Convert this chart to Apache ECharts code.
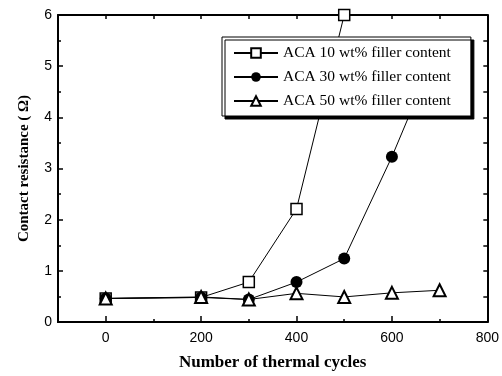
<!DOCTYPE html>
<html>
<head>
<meta charset="utf-8">
<script src="https://cdn.jsdelivr.net/npm/echarts@6/dist/echarts.min.js"></script>
<style>
  html, body { margin: 0; padding: 0; background: #fff; }
  #chart { width: 502px; height: 376px; }
</style>
</head>
<body>
<div id="chart"></div>
<script>
// thermal cycles on x
const cycles10 = [0, 200, 300, 400, 500]
const res10 = [0.46, 0.48, 0.78, 2.21, 6.0]

const cycles30 = [0, 200, 300, 400, 500, 600, 700]
const res30 = [0.46, 0.48, 0.44, 0.78, 1.24, 3.23, 5.45]

const cycles50 = [0, 200, 300, 400, 500, 600, 700]
const res50 = [0.46, 0.49, 0.44, 0.56, 0.49, 0.57, 0.62]

const xMajorTicks = [0, 200, 400, 600, 800]
const names = ['ACA 10 wt% filler content', 'ACA 30 wt% filler content', 'ACA 50 wt% filler content']

const pair = (xs, ys) => xs.map((x, i) => [x, ys[i]])

const chart = echarts.init(document.getElementById('chart'))

const serif = 'Liberation Serif'
const sans = 'Liberation Sans'

const baseX = {
  type: 'value',
  min: -100,
  max: 800,
  interval: 100,
  splitLine: { show: false },
  axisLine: { onZero: false, lineStyle: { color: '#000', width: 2 } }
}

const option = {
  animation: false,
  backgroundColor: '#fff',
  grid: { left: 58, right: 14, top: 15, bottom: 52 },
  legend: {
    orient: 'vertical',
    left: 222,
    top: 37,
    padding: [8, 20, 7, 11],
    itemWidth: 44,
    itemHeight: 12,
    itemGap: 8,
    z: 10,
    backgroundColor: '#fff',
    borderColor: '#000',
    borderWidth: 1,
    shadowColor: '#000',
    shadowBlur: 0,
    shadowOffsetX: 3,
    shadowOffsetY: 3,
    textStyle: { fontFamily: serif, fontSize: 15.5, color: '#000' },
    data: names
  },
  xAxis: [
    Object.assign({}, baseX, {
      position: 'bottom',
      name: 'Number of thermal cycles',
      nameLocation: 'middle',
      nameGap: 32,
      nameTextStyle: { fontFamily: serif, fontSize: 17, fontWeight: 'bold', color: '#000' },
      axisTick: { inside: true, length: 6, customValues: xMajorTicks, lineStyle: { color: '#000', width: 1.5 } },
      axisLabel: { customValues: xMajorTicks, margin: 9, fontFamily: sans, fontSize: 14, color: '#000' }
    }),
    Object.assign({}, baseX, {
      position: 'bottom',
      axisTick: { inside: true, length: 3, lineStyle: { color: '#000', width: 1.5 } },
      axisLabel: { show: false }
    }),
    Object.assign({}, baseX, {
      position: 'top',
      axisTick: { inside: true, length: 4, lineStyle: { color: '#000', width: 1.5 } },
      axisLabel: { show: false }
    })
  ],
  yAxis: [
    {
      type: 'value',
      min: 0,
      max: 6,
      interval: 1,
      position: 'left',
      name: 'Contact resistance ( Ω)',
      nameLocation: 'middle',
      nameGap: 26,
      nameTextStyle: { fontFamily: serif, fontSize: 15, fontWeight: 'bold', color: '#000' },
      splitLine: { show: false },
      axisLine: { onZero: false, lineStyle: { color: '#000', width: 2 } },
      axisTick: { inside: true, length: 5, lineStyle: { color: '#000', width: 1.5 } },
      minorTick: { show: true, splitNumber: 2, length: 3, lineStyle: { color: '#000', width: 1.5 } },
      axisLabel: { margin: 6, fontFamily: sans, fontSize: 14, color: '#000' }
    },
    {
      type: 'value',
      min: 0,
      max: 6,
      interval: 0.5,
      position: 'right',
      splitLine: { show: false },
      axisLine: { onZero: false, lineStyle: { color: '#000', width: 2 } },
      axisTick: { inside: true, length: 4, lineStyle: { color: '#000', width: 1.5 } },
      axisLabel: { show: false }
    }
  ],
  series: [
    {
      name: names[0],
      type: 'line',
      data: pair(cycles10, res10),
      symbol: 'rect',
      symbolSize: 11,
      lineStyle: { color: '#000', width: 1 },
      itemStyle: { color: '#fff', borderColor: '#000', borderWidth: 1.5 }
    },
    {
      name: names[1],
      type: 'line',
      data: pair(cycles30, res30),
      symbol: 'circle',
      symbolSize: 12,
      lineStyle: { color: '#000', width: 1 },
      itemStyle: { color: '#000', borderColor: '#000', borderWidth: 0 }
    },
    {
      name: names[2],
      type: 'line',
      data: pair(cycles50, res50),
      symbol: 'triangle',
      symbolSize: 12,
      lineStyle: { color: '#000', width: 1 },
      itemStyle: { color: '#fff', borderColor: '#000', borderWidth: 2 }
    }
  ]
}

chart.setOption(option)
</script>
</body>
</html>
